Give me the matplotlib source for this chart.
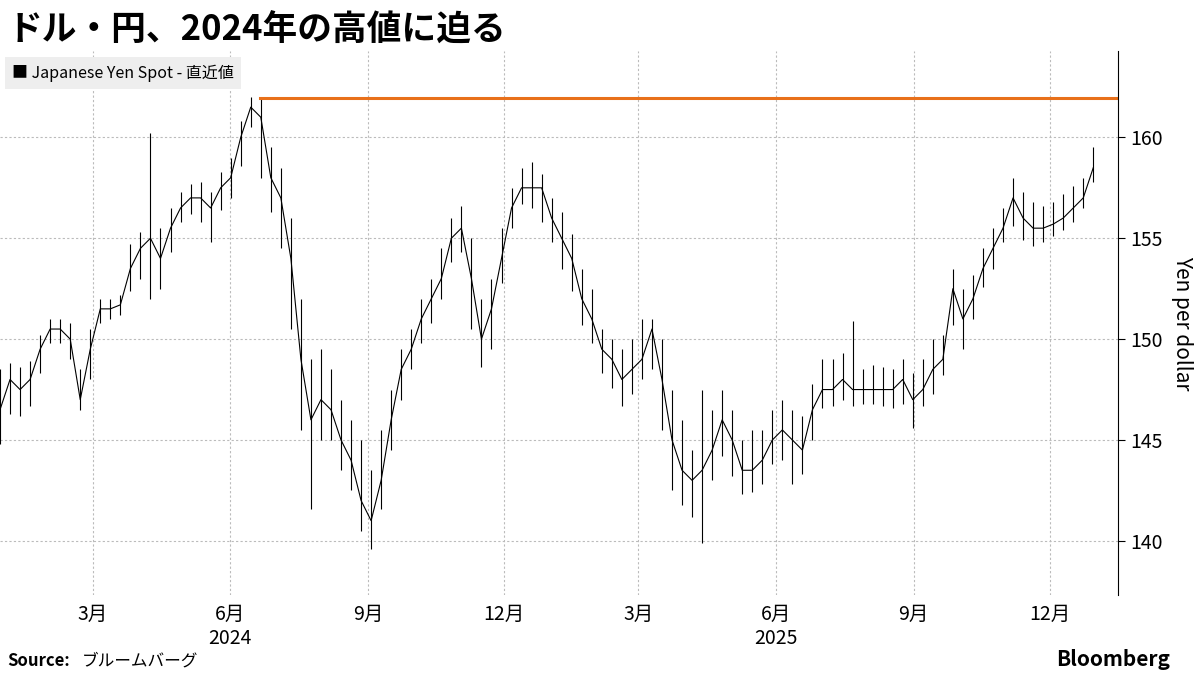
import matplotlib
matplotlib.use("Agg")
import matplotlib.pyplot as plt
import pandas as pd

plt.rcParams['font.family'] = ['Noto Sans CJK JP', 'DejaVu Sans']

close = [146.5,148,147.5,148,149.5,150.5,150.5,150,147,149.5,151.5,151.5,151.7,153.5,154.5,155,154,155.5,156.5,157,
         157,156.5,157.5,158,160,161.5,161,158,157,154,149,146,147,146.5,145,144,142,141,143,146,
         148.5,149.5,151,152,153,155,155.5,153,150,151.5,154,156.5,157.5,157.5,157.5,156,155,154,152,151,
         149.5,149,148,148.5,149,150.5,148,145,143.5,143,143.5,144.5,146,145,143.5,143.5,144,145,145.5,145,
         144.5,146.5,147.5,147.5,148,147.5,147.5,147.5,147.5,147.5,148,147,147.5,148.5,149,152.5,151,152,153.5,154.5,
         155.5,157,156,155.5,155.5,155.7,156,156.5,157,158.5]
high = [148.5,148.8,148.6,148.9,150.2,151,151,150.8,148.5,150.5,152,152,152.2,154.7,155.3,160.2,155.5,156.5,157.3,157.7,
        157.8,157.3,158.3,159,160.8,162,161.9,159.5,158.5,156,152,149,149.5,148.5,147,146,145,143.5,145.5,147.5,
        149.5,150.5,152,153,154.5,156,156.6,155,152,153,155.5,157.5,158.5,158.8,158.2,157,156.3,155.2,153.5,152.5,
        150.5,150,149.5,150,151,151,150,147.5,146,144.5,147.5,146.5,147.5,146.5,145,145.5,145.5,146.5,147,146.5,
        146.2,147.8,149,149,149.3,150.9,148.5,148.7,148.6,148.5,149,148.3,149,150,150.2,153.5,152.5,153.2,154.5,155.5,
        156.5,158,157.3,156.8,156.6,156.8,157.2,157.6,158,159.5]
low = [144.8,146.3,146.2,146.7,148.3,149.8,149.8,149,146.5,148,150.8,151,151.2,152.4,153,152,152.5,154.3,155.8,156.2,
       155.8,154.8,156.4,157,158.6,160.5,158,156.3,154.5,150.5,145.5,141.6,145,145,143.5,142.5,140.5,139.6,141.6,144.5,
       147,148.5,149.8,150.8,152,153.8,154.3,150.5,148.6,149.5,152.8,155.5,156.7,156.5,155.8,154.8,153.5,152.4,150.7,149.8,
       148.3,147.6,146.7,147.3,148,148.5,145.5,142.5,141.8,141.2,139.9,143,144.2,143.2,142.3,142.4,142.8,143.8,144,142.8,
       143.3,145,146.6,146.7,147,146.7,146.8,146.8,146.7,146.6,146.8,145.6,146.7,147.3,148.2,150.7,149.5,151,152.6,153.5,
       154.8,155.6,154.9,154.6,154.8,155.1,155.4,155.8,156.5,157.8]
dates = pd.date_range("2023-12-30", periods=len(close), freq="161h")

high_2024 = 161.95
high_2024_start = "2024-06-21"

fig = plt.figure(figsize=(12, 6.75), dpi=100)
ax = fig.add_axes([0.0, 0.118, 0.932, 0.807])
ax.vlines(dates, low, high, color="black", lw=0.8)
ax.plot(dates, close, color="black", lw=0.8)
xmin, xmax = pd.Timestamp("2023-12-30"), pd.Timestamp("2026-01-16")
ax.plot([pd.Timestamp(high_2024_start), xmax], [high_2024, high_2024], color="#e8701a", lw=2.2)

ax.set_xlim(xmin, xmax)
ax.set_ylim(137.3, 164.3)
ax.yaxis.tick_right()
ax.yaxis.set_label_position("right")
ax.set_yticks([140, 145, 150, 155, 160])
ax.set_ylabel("Yen per dollar", rotation=270, labelpad=22, fontsize=15)
ax.tick_params(axis='y', labelsize=14, length=5)
ticks = [pd.Timestamp(f"{y}-{m:02d}-01") for y in (2024, 2025) for m in (3, 6, 9, 12)]
ax.set_xticks(ticks)
ax.set_xticklabels([f"{t.month}月" for t in ticks], fontsize=14)
ax.tick_params(axis='x', length=0, pad=6)
for t in ticks:
    ax.axvline(t, color="#bbbbbb", ls=(0, (2, 2)), lw=0.8, zorder=0)
for v in [140, 145, 150, 155, 160]:
    ax.axhline(v, color="#bbbbbb", ls=(0, (2, 2)), lw=0.8, zorder=0)
for s in ["top", "left", "bottom"]:
    ax.spines[s].set_visible(False)
ax.spines["right"].set_color("black")
for y in (2024, 2025):
    ax.text(pd.Timestamp(f"{y}-06-01"), -0.06, str(y), transform=ax.get_xaxis_transform(),
            ha="center", va="top", fontsize=14)

fig.text(0.006, 0.955, "ドル・円、2024年の高値に迫る", fontsize=25, fontweight="bold", va="center")
fig.text(0.01, 0.892, "■ Japanese Yen Spot - 直近値", fontsize=11.5, va="center",
         bbox=dict(boxstyle="square,pad=0.45", fc="#eeeeee", ec="none"))
fig.text(0.006, 0.008, "Source:", fontsize=12, fontweight="bold", va="bottom")
fig.text(0.068, 0.008, "ブルームバーグ", fontsize=12, va="bottom")
fig.text(0.975, 0.008, "Bloomberg", fontsize=15, fontweight="bold", va="bottom", ha="right")
fig.savefig("out.png", dpi=100)
